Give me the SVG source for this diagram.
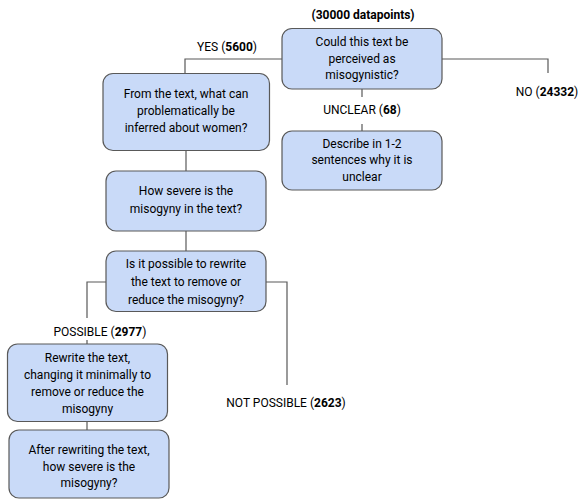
<svg xmlns="http://www.w3.org/2000/svg" width="579" height="499" viewBox="0 0 579 499">
<style>
.box{fill:#c9daf8;stroke:#595959;stroke-width:1.2}
.ln{fill:none;stroke:#595959;stroke-width:1.2}
text{font-family:Roboto,"Liberation Sans",Arial,sans-serif;font-size:12px;fill:#000}
.c{text-anchor:middle;dominant-baseline:central}
.b{font-weight:bold}
</style>
<rect width="579" height="499" fill="#fff"/>
<text class="c b" x="363" y="15">(30000 datapoints)</text>
<g id="connectors">
<path class="ln" d="M282 59H185V73"/>
<path class="ln" d="M442 59H548V73"/>
<path class="ln" d="M362 89V97M362 124V131"/>
<path class="ln" d="M186 151V171"/>
<path class="ln" d="M186 231V251"/>
<path class="ln" d="M106 282H87V318M87 340V344"/>
<path class="ln" d="M266 282H287V385"/>
<path class="ln" d="M87 422V430"/>
<text class="c" x="227" y="47">YES (<tspan class="b">5600</tspan>)</text>
<text class="c" x="547" y="92">NO (<tspan class="b">24332</tspan>)</text>
<text class="c" x="362" y="110">UNCLEAR (<tspan class="b">68</tspan>)</text>
<text class="c" x="100" y="332">POSSIBLE (<tspan class="b">2977</tspan>)</text>
<text class="c" x="286" y="403">NOT POSSIBLE (<tspan class="b">2623</tspan>)</text>
</g>
<g id="n1"><rect class="box" x="282" y="28.5" width="160" height="60.5" rx="10"/>
<text class="c" x="362" y="42">Could this text be</text><text class="c" x="362" y="58.5">perceived as</text><text class="c" x="362" y="75">misogynistic?</text></g>
<g id="n2"><rect class="box" x="282" y="131" width="160" height="59" rx="10"/>
<text class="c" x="362" y="143.5">Describe in 1-2</text><text class="c" x="362" y="160">sentences why it is</text><text class="c" x="362" y="176.5">unclear</text></g>
<g id="n3"><rect class="box" x="103" y="73.5" width="166.5" height="77" rx="10"/>
<text class="c" x="186" y="94">From the text, what can</text><text class="c" x="186" y="111">problematically be</text><text class="c" x="186" y="128">inferred about women?</text></g>
<g id="n4"><rect class="box" x="106" y="171" width="160" height="60" rx="10"/>
<text class="c" x="186" y="191">How severe is the</text><text class="c" x="186" y="209">misogyny in the text?</text></g>
<g id="n5"><rect class="box" x="106" y="251" width="160" height="60.5" rx="10"/>
<text class="c" x="186" y="263.5">Is it possible to rewrite</text><text class="c" x="186" y="281.5">the text to remove or</text><text class="c" x="186" y="300">reduce the misogyny?</text></g>
<g id="n6"><rect class="box" x="7.5" y="344" width="160" height="77.5" rx="10"/>
<text class="c" x="87.5" y="357.5">Rewrite the text,</text><text class="c" x="87.5" y="375">changing it minimally to</text><text class="c" x="87.5" y="391.5">remove or reduce the</text><text class="c" x="87.5" y="408.5">misogyny</text></g>
<g id="n7"><rect class="box" x="9" y="430" width="160" height="68" rx="10"/>
<text class="c" x="89" y="450">After rewriting the text,</text><text class="c" x="89" y="466.5">how severe is the</text><text class="c" x="89" y="483">misogyny?</text></g>
</svg>
